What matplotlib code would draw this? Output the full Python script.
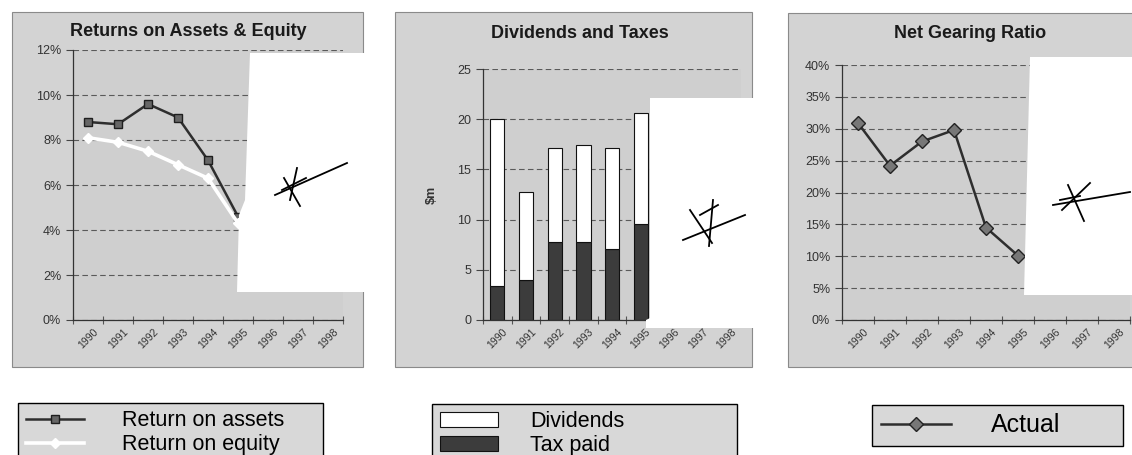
import numpy as np
import matplotlib.pyplot as plt
from matplotlib.patches import Rectangle, Polygon
from matplotlib.lines import Line2D
from matplotlib.ticker import PercentFormatter, MultipleLocator

# financial summary, one value per year shown
years = ['1990', '1991', '1992', '1993', '1994', '1995', '1996', '1997', '1998']
return_on_assets = [8.8, 8.7, 9.6, 9.0, 7.1, 4.6]
return_on_equity = [8.1, 7.9, 7.5, 6.9, 6.3, 4.3]
tax_paid = [3.4, 4.0, 7.8, 7.8, 7.1, 9.6]
dividends = [16.6, 8.7, 9.3, 9.6, 10.0, 11.0]
net_gearing = [30.9, 24.2, 28.0, 29.8, 14.5, 10.1]

W, H = 1132, 455
FRAME = '#d3d3d3'
PLOT_BG = '#cfcfcf'
GRID = '#5a5a5a'
plt.rcParams['font.family'] = ['Liberation Sans', 'DejaVu Sans']

fig = plt.figure(figsize=(W / 100, H / 100), dpi=100)


def fx(x):
    return x / W


def fy(y):
    return 1 - y / H


def frame(x0, y0, x1, y1):
    fig.add_artist(Rectangle((fx(x0), fy(y1)), fx(x1 - x0), (y1 - y0) / H,
                             transform=fig.transFigure, facecolor=FRAME,
                             edgecolor='#8a8a8a', linewidth=0.8, zorder=-1))


def make_axes(x0, x1, ytop, ybot=320):
    ax = fig.add_axes([fx(x0), fy(ybot), fx(x1 - x0), (ybot - ytop) / H])
    ax.set_facecolor(PLOT_BG)
    for s in ('top', 'right'):
        ax.spines[s].set_visible(False)
    for s in ('left', 'bottom'):
        ax.spines[s].set_color('#333333')
        ax.spines[s].set_linewidth(0.9)
    ax.set_xlim(-0.5, len(years) - 0.5)
    ax.set_xticks(np.arange(-0.5, len(years), 1))
    ax.set_xticklabels([])
    ax.set_xticks(np.arange(len(years)), minor=True)
    ax.set_xticklabels(years, minor=True, rotation=45, fontsize=7.5, color='#333333')
    ax.tick_params(axis='x', which='major', direction='inout', length=6, color='#555555')
    ax.tick_params(axis='x', which='minor', length=0, pad=5)
    ax.tick_params(axis='y', direction='out', length=5, labelsize=9,
                   labelcolor='#333333', color='#444444')
    ax.grid(axis='y', color=GRID, linestyle=(0, (5, 3)), linewidth=0.8)
    ax.set_axisbelow(True)
    return ax


def cover(points):
    fig.add_artist(Polygon([(fx(x), fy(y)) for x, y in points], closed=True,
                           transform=fig.transFigure, facecolor='white',
                           edgecolor='none', zorder=5))


def scribble(strokes):
    for (x0, y0), (x1, y1) in strokes:
        fig.add_artist(Line2D([fx(x0), fx(x1)], [fy(y0), fy(y1)],
                              transform=fig.transFigure, color='black',
                              linewidth=1.3, zorder=6))


legend_style = dict(loc='upper left', mode='expand', fancybox=False, framealpha=1,
                    facecolor='#d8d8d8', edgecolor='black', borderaxespad=0,
                    borderpad=0.35, labelspacing=0.15)

# --- Returns on Assets & Equity ---
frame(12, 12, 363, 367)
ax1 = make_axes(73, 343, 50)
x = np.arange(len(return_on_assets))
l_roa, = ax1.plot(x, return_on_assets, color='#2e2e2e', linewidth=1.8, marker='s',
                  markersize=6, markerfacecolor='#666666', markeredgecolor='#1e1e1e')
l_roe, = ax1.plot(np.arange(len(return_on_equity)), return_on_equity, color='white',
                  linewidth=2.6, marker='D', markersize=5, markerfacecolor='white',
                  markeredgecolor='white')
ax1.set_ylim(0, 12)
ax1.yaxis.set_major_locator(MultipleLocator(2))
ax1.yaxis.set_major_formatter(PercentFormatter(decimals=0))
fig.text(fx(188), fy(31), 'Returns on Assets & Equity', ha='center', va='center',
         fontsize=13, fontweight='bold', color='#1a1a1a')
fig.legend([l_roa, l_roe], ['Return on assets', 'Return on equity'],
           bbox_to_anchor=(fx(18), fy(403), fx(323 - 18), 0.001),
           fontsize=15.5, handlelength=2.7, handletextpad=1.8, **legend_style)

# --- Dividends and Taxes ---
frame(395, 12, 752, 367)
ax2 = make_axes(483, 741, 69)
xb = np.arange(len(tax_paid))
b_tax = ax2.bar(xb, tax_paid, width=0.5, color='#3c3c3c', edgecolor='#111111',
                linewidth=0.8)
b_div = ax2.bar(xb, dividends, width=0.5, bottom=tax_paid, color='white',
                edgecolor='#111111', linewidth=0.8)
ax2.set_ylim(0, 25)
ax2.yaxis.set_major_locator(MultipleLocator(5))
ax2.set_ylabel('$m', fontsize=9, fontweight='bold', color='#333333', labelpad=14)
fig.text(fx(580), fy(33), 'Dividends and Taxes', ha='center', va='center',
         fontsize=13, fontweight='bold', color='#1a1a1a')
fig.legend([b_div, b_tax], ['Dividends', 'Tax paid'],
           bbox_to_anchor=(fx(432), fy(404), fx(737 - 432), 0.001),
           fontsize=15.5, handlelength=2.7, handletextpad=1.5, **legend_style)

# --- Net Gearing Ratio ---
frame(788, 13, 1140, 367)
ax3 = make_axes(842, 1130, 65)
l_gear, = ax3.plot(np.arange(len(net_gearing)), net_gearing, color='#2e2e2e',
                   linewidth=1.8, marker='D', markersize=7, markerfacecolor='#777777',
                   markeredgecolor='#222222')
ax3.set_ylim(0, 40)
ax3.yaxis.set_major_locator(MultipleLocator(5))
ax3.yaxis.set_major_formatter(PercentFormatter(decimals=0))
fig.text(fx(970), fy(33), 'Net Gearing Ratio', ha='center', va='center',
         fontsize=13, fontweight='bold', color='#1a1a1a')
fig.legend([l_gear], ['Actual'],
           bbox_to_anchor=(fx(872), fy(405), fx(1123 - 872), 0.001),
           fontsize=18, handlelength=2.8, handletextpad=1.6, **legend_style)

# pasted-over areas with hand-drawn marks
cover([(250, 53), (368, 53), (368, 292), (237, 292), (239, 215), (245, 200)])
scribble([((275, 195), (347, 163)), ((284, 178), (300, 206)),
          ((297, 168), (290, 200)), ((282, 190), (306, 178))])
cover([(650, 98), (760, 98), (760, 328), (646, 328), (646, 320), (650, 318)])
scribble([((683, 240), (745, 215)), ((690, 210), (712, 243)),
          ((713, 200), (709, 246)), ((700, 215), (718, 205))])
cover([(1030, 57), (1132, 57), (1132, 295), (1024, 295)])
scribble([((1053, 205), (1130, 192)), ((1068, 185), (1084, 221)),
          ((1090, 183), (1062, 210)), ((1060, 200), (1080, 196))])

fig.savefig('out.png', dpi=100)
